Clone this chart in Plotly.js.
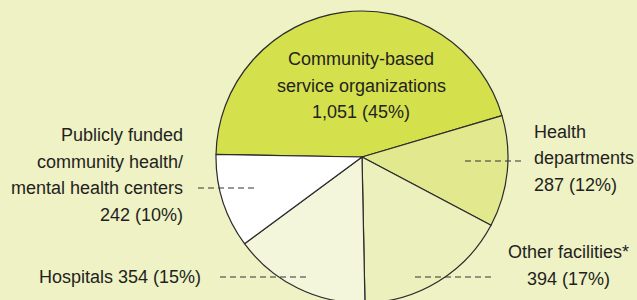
<!DOCTYPE html>
<html>
<head>
<meta charset="utf-8">
<script src="https://cdn.plot.ly/plotly-3.0.1.min.js"></script>
<style>
html,body{margin:0;padding:0;overflow:hidden;background:#eef2c5;}
#chart{width:637px;height:310px;}
</style>
</head>
<body>
<div id="chart"></div>
<script>
// Data
const categories = ["Community-based service organizations", "Health departments", "Other facilities*", "Hospitals", "Publicly funded community health/mental health centers"];
const counts = [1051, 287, 394, 354, 242];
const percents = [45, 12, 17, 15, 10];
const sliceColors = ["#d5e04d", "#e1e88e", "#ebf0bc", "#f3f6da", "#ffffff"];
const labelLines = [
  ["Community-based", "service organizations", "1,051 (45%)"],
  ["Health", "departments", "287 (12%)"],
  ["Other facilities*", "394 (17%)"],
  ["Hospitals 354 (15%)"],
  ["Publicly funded", "community health/", "mental health centers", "242 (10%)"]
];

const W = 637, H = 310;
const textColor = "#231f20";
const fontFam = "'Liberation Sans', Arial, sans-serif";
const fs = 18;
const lineGap = 26.5;

// label layout (pixel positions from top-left): x, first-line y, anchor
const labelPos = [
  {x: 361, y: 59, anchor: "center"},
  {x: 532, y: 132, anchor: "left"},
  {x: 568, y: 252, anchor: "center"},
  {x: 203, y: 277, anchor: "right"},
  {x: 185, y: 135, anchor: "right"}
];
// dashed leader lines: [x0, x1, y]
const leaders = [
  null,
  [465, 523, 161],
  [415, 493, 277],
  [220, 310, 277],
  [198, 255, 188]
];

const px = x => x / W;
const py = y => 1 - y / H;

const annotations = [];
labelLines.forEach((lines, i) => {
  const p = labelPos[i];
  lines.forEach((t, j) => {
    annotations.push({
      text: t, xref: "paper", yref: "paper",
      x: px(p.x), y: py(p.y + j * lineGap),
      xanchor: p.anchor, yanchor: "middle", align: p.anchor,
      showarrow: false,
      font: {family: fontFam, size: fs, color: textColor}
    });
  });
});

const shapes = [];
leaders.forEach(l => {
  if (!l) return;
  shapes.push({
    type: "line", xref: "paper", yref: "paper",
    x0: px(l[0]), x1: px(l[1]), y0: py(l[2]), y1: py(l[2]),
    line: {color: "#333333", width: 1, dash: "6px,4px"}
  });
});

// pie geometry: center (362,157), radius 146
const cx = 362, cy = 157, r = 146;

const trace = {
  type: "pie",
  labels: categories,
  values: counts,
  sort: false,
  direction: "clockwise",
  rotation: -89,
  textinfo: "none",
  hoverinfo: "label+value",
  marker: {colors: sliceColors, line: {color: "#2b2b2b", width: 1.2}},
  domain: {x: [px(cx - r), px(cx + r)], y: [py(cy + r), py(cy - r)]},
  showlegend: false
};

Plotly.newPlot("chart", [trace], {
  width: W, height: H,
  margin: {l: 0, r: 0, t: 0, b: 0},
  paper_bgcolor: "#eef2c5",
  plot_bgcolor: "#eef2c5",
  showlegend: false,
  annotations: annotations,
  shapes: shapes
}, {displayModeBar: false, staticPlot: true});
</script>
</body>
</html>
